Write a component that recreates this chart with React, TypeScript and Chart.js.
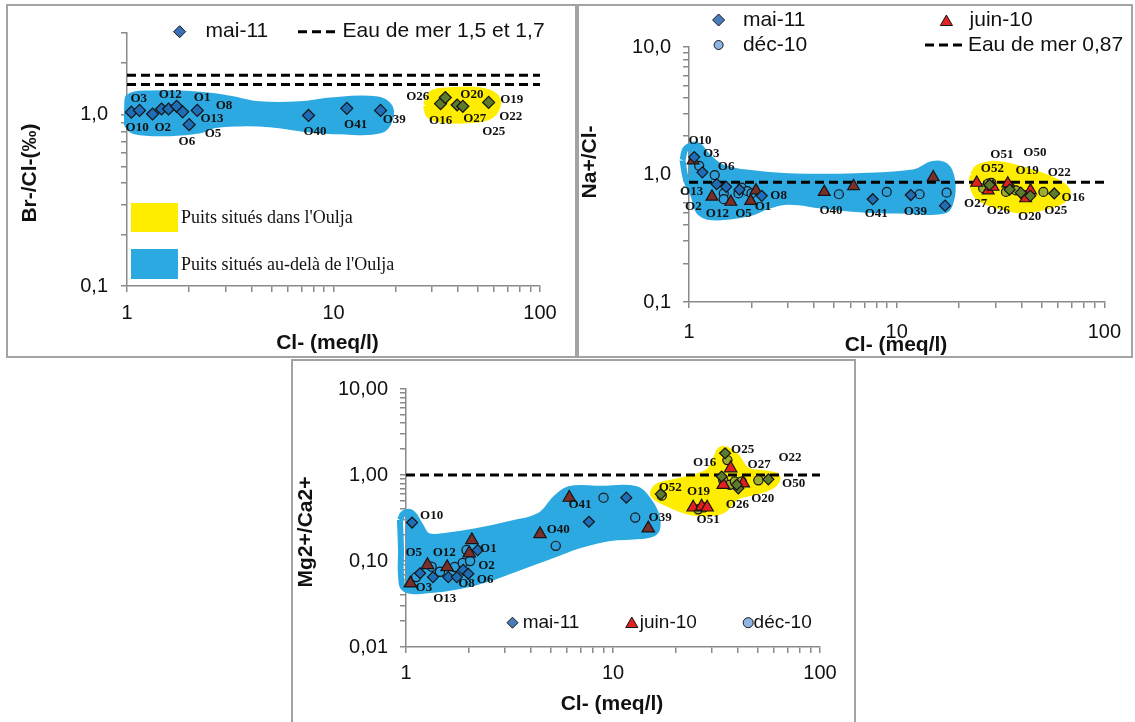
import React, { useEffect, useRef } from 'react';
import { Chart, registerables } from 'chart.js';

Chart.register(...registerables);

const SANS = '"Liberation Sans", Arial, sans-serif';
const SERIF = '"Liberation Serif", "Times New Roman", serif';

// ---------------- axes ----------------
const CL_TICKS = [1, 2, 3, 4, 5, 6, 7, 8, 9, 10, 20, 30, 40, 50, 60, 70, 80, 90, 100];
const CL_TEXT: Record<string, string> = { '1': '1', '10': '10', '100': '100' };
const BR_TICKS = [0.1, 0.2, 0.3, 0.4, 0.5, 0.6, 0.7, 0.8, 0.9, 1, 2, 3];
const BR_TEXT: Record<string, string> = { '0.1': '0,1', '1': '1,0' };
const NA_TICKS = [0.1, 0.2, 0.3, 0.4, 0.5, 0.6, 0.7, 0.8, 0.9, 1, 2, 3, 4, 5, 6, 7, 8, 9, 10];
const NA_TEXT: Record<string, string> = { '0.1': '0,1', '1': '1,0', '10': '10,0' };
const MG_TICKS = [0.01, 0.02, 0.03, 0.04, 0.05, 0.06, 0.07, 0.08, 0.09, 0.1, 0.2, 0.3, 0.4, 0.5, 0.6, 0.7, 0.8, 0.9, 1, 2, 3, 4, 5, 6, 7, 8, 9, 10];
const MG_TEXT: Record<string, string> = { '0.01': '0,01', '0.1': '0,10', '1': '1,00', '10': '10,00' };

// ---------------- panel 1 : Br-/Cl- ----------------
const BR_MAI_X = [1.05, 1.15, 1.33, 1.47, 1.59, 1.74, 1.86, 2.0, 2.19, 7.57, 11.6, 16.9, 33.0, 34.8, 39.7, 42.3, 56.4];
const BR_MAI_Y = [1.035, 1.06, 1.01, 1.08, 1.08, 1.12, 1.04, 0.875, 1.06, 0.99, 1.09, 1.06, 1.16, 1.26, 1.14, 1.12, 1.18];
const BR_SEA = [1.5, 1.7];
const BR_LABELS: [string, number, number][] = [
  ['O3', 1.14, 1.24], ['O12', 1.62, 1.31], ['O1', 2.31, 1.25], ['O8', 2.95, 1.13],
  ['O10', 1.12, 0.84], ['O2', 1.49, 0.84], ['O13', 2.58, 0.95], ['O5', 2.61, 0.78],
  ['O6', 1.95, 0.70], ['O40', 8.13, 0.80], ['O41', 12.8, 0.88], ['O39', 19.7, 0.93],
  ['O26', 25.6, 1.27], ['O20', 46.8, 1.31], ['O19', 73.0, 1.23], ['O16', 33.0, 0.92],
  ['O27', 48.3, 0.95], ['O22', 72.2, 0.97], ['O25', 59.7, 0.80],
];
const BR_BLUE_X = [1.0, 1.01, 1.29, 2.26, 3.15, 4.4, 6.88, 9.6, 15.0, 18.3, 18.8, 16.8, 10.7, 7.69, 4.92, 3.52, 2.67, 2.26, 1.62, 1.09, 1.0];
const BR_BLUE_Y = [1.03, 1.26, 1.33, 1.31, 1.24, 1.15, 1.15, 1.21, 1.24, 1.15, 0.95, 0.81, 0.8, 0.82, 0.88, 0.89, 0.87, 0.81, 0.78, 0.8, 0.88];
const BR_YEL_X = [28, 29.9, 36.6, 51, 60.4, 62.5, 57.1, 45.8, 34.6, 29.3];
const BR_YEL_Y = [1.13, 1.33, 1.39, 1.39, 1.29, 1.13, 0.98, 0.93, 0.93, 0.98];

// ---------------- panel 2 : Na+/Cl- ----------------
const NA_MAI_X = [1.06, 1.16, 1.36, 1.51, 1.75, 2.24, 7.67, 11.7, 17.1, 28, 35, 39.6, 44, 57.4];
const NA_MAI_Y = [1.37, 1.04, 0.84, 0.8, 0.76, 0.68, 0.64, 0.69, 0.57, 0.83, 0.76, 0.72, 0.68, 0.71];
const NA_JUIN_X = [1.045, 1.29, 1.59, 1.98, 2.1, 4.48, 6.2, 15.0, 24.3, 27.6, 29.1, 34.3, 41.8, 44.1];
const NA_JUIN_Y = [1.29, 0.67, 0.61, 0.62, 0.75, 0.73, 0.81, 0.95, 0.86, 0.75, 0.8, 0.85, 0.65, 0.75];
const NA_DEC_X = [1.12, 1.33, 1.47, 1.47, 1.73, 1.79, 1.91, 2.0, 5.27, 8.96, 12.9, 17.4, 26.1, 27.6, 28.6, 33.6, 35.5, 37.5, 41, 50.9];
const NA_DEC_Y = [1.17, 0.99, 0.71, 0.64, 0.71, 0.79, 0.74, 0.71, 0.7, 0.73, 0.7, 0.72, 0.78, 0.85, 0.86, 0.73, 0.78, 0.75, 0.69, 0.73];
const NA_SEA = [0.87];
const NA_LABELS: [string, number, number][] = [
  ['O10', 1.13, 1.83], ['O3', 1.28, 1.46], ['O6', 1.51, 1.15], ['O13', 1.03, 0.73],
  ['O2', 1.05, 0.56], ['O12', 1.37, 0.49], ['O5', 1.83, 0.49], ['O1', 2.27, 0.56],
  ['O8', 2.7, 0.68], ['O40', 4.83, 0.52], ['O41', 7.98, 0.49], ['O39', 12.3, 0.51],
  ['O51', 32.1, 1.44], ['O50', 46.3, 1.48], ['O52', 28.9, 1.11], ['O19', 42.5, 1.07],
  ['O22', 60.7, 1.03], ['O27', 24.0, 0.59], ['O26', 30.9, 0.52], ['O20', 43.7, 0.47],
  ['O25', 58.4, 0.52], ['O16', 70.8, 0.66],
];
const NA_BLUE_X = [0.93, 0.97, 1.095, 1.23, 1.44, 1.84, 3.0, 6.4, 12.2, 14.9, 17.3, 18.5, 18.3, 16.9, 11.6, 7.12, 4.38, 3.0, 2.36, 1.99, 1.37, 1.13, 1.05, 0.97];
const NA_BLUE_Y = [1.3, 1.61, 1.7, 1.39, 1.14, 1.04, 0.97, 0.97, 1.04, 1.21, 1.16, 0.9, 0.63, 0.52, 0.52, 0.53, 0.57, 0.61, 0.56, 0.5, 0.46, 0.5, 0.69, 0.9];
const NA_YEL_X = [23.2, 24.8, 30.7, 44.9, 56.9, 66.3, 63.5, 50, 40.3, 30.7, 24.8, 23.2];
const NA_YEL_Y = [0.99, 1.14, 1.21, 1.04, 0.9, 0.75, 0.63, 0.55, 0.52, 0.57, 0.66, 0.82];

// ---------------- panel 3 : Mg2+/Ca2+ ----------------
const MG_MAI_X = [1.07, 1.17, 1.35, 1.6, 1.76, 1.89, 2.0, 2.22, 7.65, 11.6, 17.0, 34.8, 33.5, 40.3, 39.6, 56.3];
const MG_MAI_Y = [0.28, 0.072, 0.065, 0.065, 0.065, 0.079, 0.071, 0.134, 0.286, 0.545, 0.6, 1.79, 0.96, 0.7, 0.77, 0.89];
const MG_JUIN_X = [1.05, 1.27, 1.58, 2.02, 2.08, 4.44, 6.15, 14.8, 24.4, 26.8, 28.5, 37, 34.1, 42.6];
const MG_JUIN_Y = [0.055, 0.09, 0.085, 0.123, 0.175, 0.206, 0.545, 0.24, 0.42, 0.43, 0.42, 1.2, 0.77, 0.8];
const MG_DEC_X = [1.12, 1.33, 1.46, 1.72, 1.88, 1.96, 2.04, 5.29, 9.0, 12.8, 17.2, 25.8, 27.5, 35.7, 34.1, 36.7, 38.8, 41.9, 50.4];
const MG_DEC_Y = [0.065, 0.086, 0.075, 0.085, 0.095, 0.134, 0.1, 0.15, 0.545, 0.32, 0.575, 0.4, 0.42, 1.49, 0.87, 0.77, 0.84, 0.84, 0.87];
const MG_SEA = [1.0];
const MG_LABELS: [string, number, number][] = [
  ['O10', 1.33, 0.334], ['O5', 1.09, 0.125], ['O12', 1.53, 0.125], ['O1', 2.5, 0.14],
  ['O2', 2.45, 0.0875], ['O6', 2.41, 0.0613], ['O8', 1.96, 0.055], ['O3', 1.22, 0.0494],
  ['O13', 1.54, 0.0368], ['O40', 5.44, 0.234], ['O41', 6.93, 0.448], ['O39', 16.9, 0.322],
  ['O52', 18.9, 0.712], ['O19', 25.9, 0.64], ['O51', 28.8, 0.3], ['O16', 27.7, 1.405],
  ['O25', 42.3, 1.95], ['O27', 50.8, 1.33], ['O22', 71.6, 1.59], ['O50', 74.6, 0.8],
  ['O20', 52.9, 0.536], ['O26', 39.9, 0.456],
];
const MG_BLUE_X = [0.935, 0.978, 1.07, 1.17, 1.28, 1.63, 2.15, 3.18, 4.44, 5.3, 6.2, 8.65, 12.8, 14.8, 16.3, 16.0, 13.5, 9.67, 6.93, 4.96, 3.55, 2.55, 1.82, 1.31, 0.99, 0.946, 0.946];
const MG_BLUE_Y = [0.3, 0.36, 0.36, 0.26, 0.195, 0.2, 0.22, 0.27, 0.34, 0.54, 0.69, 0.69, 0.69, 0.51, 0.32, 0.217, 0.195, 0.185, 0.153, 0.114, 0.085, 0.063, 0.051, 0.046, 0.047, 0.069, 0.134];
const MG_YEL_X = [34.8, 39.6, 44.2, 53.2, 62, 59.5, 49.5, 39.6, 34.1, 29.4, 23.6, 18.2, 15.7, 16.3, 20.3, 25.4, 29.4, 31.7, 32.9];
const MG_YEL_Y = [2.04, 1.63, 1.14, 1.05, 0.96, 0.77, 0.64, 0.56, 0.39, 0.36, 0.37, 0.47, 0.585, 0.73, 0.84, 0.96, 1.14, 1.63, 1.95];

// ---------------- styles ----------------
const C = {
  blueZone: '#2CA9E1', yellowZone: '#FFED00',
  maiBlue: '#1F6DB6', maiYellow: '#5E7A2B',
  juinBlue: '#7B2F2A', juinYellow: '#E3201F',
  decBlue: '#2E9FD9', decYellow: '#9FAE2F',
  maiLegend: '#4A7EBB', juinLegend: '#E02424', decLegend: '#8FB6E3',
  edge: '#151515', axis: '#8a8a8a', text: '#111',
};

type Box = { x: number; y: number; w: number; h: number };
type Area = { l: number; r: number; t: number; b: number };

const zip = (xs: number[], ys: number[]) => xs.map((x, i) => ({ x, y: ys[i] }));

function points(label: string, xs: number[], ys: number[], style: string, r: number, blue: string, yellow: string, split: number) {
  return {
    type: 'scatter', label, data: zip(xs, ys),
    pointStyle: style, pointRadius: r, pointHoverRadius: r,
    pointBackgroundColor: (c: any) => (c.raw && c.raw.x > split ? yellow : blue),
    pointBorderColor: C.edge, pointBorderWidth: 1.2, order: 0, clip: false,
  };
}

function blob(xs: number[], ys: number[], color: string) {
  const d = zip(xs, ys);
  d.push(d[0]);
  return {
    type: 'line', data: d, fill: 'shape', backgroundColor: color, borderColor: color,
    borderWidth: 6, borderJoinStyle: 'round', pointRadius: 0, tension: 0.4, clip: false, order: 2,
  };
}

function seaLine(v: number) {
  return {
    type: 'line', data: [{ x: 1, y: v }, { x: 100, y: v }], borderColor: '#000', borderWidth: 3,
    borderDash: [9, 5], pointRadius: 0, fill: false, tension: 0, order: 1,
  };
}

function setTicks(list: number[]) {
  return (s: any) => { s.ticks = list.map((v) => ({ value: v })); };
}

function scales(box: Box, area: Area, yMin: number, yMax: number, yTicks: number[], yText: Record<string, string>, xPad: number, yPad: number) {
  const grid = { display: true, drawOnChartArea: false, drawTicks: true, tickLength: 6, color: C.axis, lineWidth: 1.5 };
  const border = { display: true, color: C.axis, width: 1.5 };
  return {
    x: {
      type: 'logarithmic', position: 'bottom', min: 1, max: 100,
      afterFit: (s: any) => { s.height = box.h - area.b; },
      afterBuildTicks: setTicks(CL_TICKS),
      ticks: { autoSkip: false, maxRotation: 0, padding: xPad, color: C.text, font: { size: 20, family: SANS }, callback: (v: any) => CL_TEXT[String(v)] ?? '' },
      grid, border,
    },
    y: {
      type: 'logarithmic', position: 'left', min: yMin, max: yMax,
      afterFit: (s: any) => { s.width = area.l; },
      afterBuildTicks: setTicks(yTicks),
      ticks: { autoSkip: false, padding: yPad, color: C.text, font: { size: 20, family: SANS }, callback: (v: any) => yText[String(v)] ?? '' },
      grid, border,
    },
  };
}

function marker(ctx: CanvasRenderingContext2D, style: string, x: number, y: number, r: number, fill: string) {
  ctx.beginPath();
  if (style === 'rectRot') {
    ctx.moveTo(x, y - r); ctx.lineTo(x + r, y); ctx.lineTo(x, y + r); ctx.lineTo(x - r, y); ctx.closePath();
  } else if (style === 'triangle') {
    ctx.moveTo(x, y - r); ctx.lineTo(x + r * 0.866, y + r * 0.5); ctx.lineTo(x - r * 0.866, y + r * 0.5); ctx.closePath();
  } else {
    ctx.arc(x, y, r, 0, Math.PI * 2);
  }
  ctx.fillStyle = fill; ctx.fill();
  ctx.strokeStyle = C.edge; ctx.lineWidth = 1; ctx.stroke();
}

function text(ctx: CanvasRenderingContext2D, s: string, x: number, y: number, font: string, align: CanvasTextAlign = 'left') {
  ctx.font = font; ctx.fillStyle = C.text; ctx.textAlign = align; ctx.textBaseline = 'middle';
  ctx.fillText(s, x, y);
}

function dash(ctx: CanvasRenderingContext2D, x1: number, x2: number, y: number) {
  ctx.save(); ctx.beginPath(); ctx.setLineDash([9, 5]); ctx.strokeStyle = '#000'; ctx.lineWidth = 3;
  ctx.moveTo(x1, y); ctx.lineTo(x2, y); ctx.stroke(); ctx.restore();
}

function vtitle(ctx: CanvasRenderingContext2D, s: string, x: number, y: number) {
  ctx.save(); ctx.translate(x, y); ctx.rotate(-Math.PI / 2);
  text(ctx, s, 0, 0, `bold 21px ${SANS}`, 'center'); ctx.restore();
}

function overlay(labels: [string, number, number][], draw: (ctx: CanvasRenderingContext2D) => void) {
  return {
    id: 'overlay',
    afterDatasetsDraw(chart: any) {
      const ctx = chart.ctx; const xs = chart.scales.x; const ys = chart.scales.y;
      ctx.save();
      for (const [t, x, y] of labels) text(ctx, t, xs.getPixelForValue(x), ys.getPixelForValue(y), `bold 13px ${SERIF}`, 'center');
      ctx.restore();
    },
    afterDraw(chart: any) { const ctx = chart.ctx; ctx.save(); draw(ctx); ctx.restore(); },
  };
}

function config(box: Box, area: Area, datasets: any[], sc: any, plugin: any) {
  return {
    type: 'scatter',
    data: { datasets },
    options: {
      animation: false, responsive: false, devicePixelRatio: 1, events: [],
      layout: { padding: { left: 0, top: area.t, right: box.w - area.r, bottom: 0 } },
      plugins: { legend: { display: false }, tooltip: { enabled: false }, title: { display: false } },
      scales: sc,
    },
    plugins: [plugin],
  };
}

// ---------------- panels ----------------
const P1_BOX: Box = { x: 6, y: 4, w: 571, h: 354 };
const P1_AREA: Area = { l: 121, r: 534, t: 29, b: 282 };
const P2_BOX: Box = { x: 577, y: 4, w: 556, h: 354 };
const P2_AREA: Area = { l: 112, r: 537, t: 43, b: 298 };
const P3_BOX: Box = { x: 291, y: 359, w: 565, h: 365 };
const P3_AREA: Area = { l: 115, r: 529, t: 30, b: 288 };

function buildP1() {
  const ds = [
    points('mai-11', BR_MAI_X, BR_MAI_Y, 'rectRot', 6, C.maiBlue, C.maiYellow, 20),
    ...BR_SEA.map(seaLine),
    blob(BR_BLUE_X, BR_BLUE_Y, C.blueZone),
    blob(BR_YEL_X, BR_YEL_Y, C.yellowZone),
  ];
  const pl = overlay(BR_LABELS, (ctx) => {
    marker(ctx, 'rectRot', 173.6, 27.7, 6, '#3B6FB6');
    text(ctx, 'mai-11', 199.6, 27.7, `21px ${SANS}`);
    dash(ctx, 292, 329, 27.7);
    text(ctx, 'Eau de mer 1,5 et 1,7', 336.6, 27.7, `21px ${SANS}`);
    ctx.fillStyle = C.yellowZone; ctx.fillRect(125, 199, 47, 29);
    ctx.fillStyle = C.blueZone; ctx.fillRect(125, 245, 47, 30);
    text(ctx, "Puits situés dans l'Oulja", 175, 214, `18px ${SERIF}`);
    text(ctx, "Puits situés au-delà de l'Oulja", 175, 261, `18px ${SERIF}`);
    vtitle(ctx, 'Br-/Cl-(‰)', 24, 169);
    text(ctx, 'Cl- (meq/l)', 321.5, 339, `bold 21px ${SANS}`, 'center');
  });
  return config(P1_BOX, P1_AREA, ds, scales(P1_BOX, P1_AREA, 0.1, 3, BR_TICKS, BR_TEXT, 9, 13), pl);
}

function buildP2() {
  const ds = [
    points('mai-11', NA_MAI_X, NA_MAI_Y, 'rectRot', 5.5, C.maiBlue, C.maiYellow, 20),
    points('juin-10', NA_JUIN_X, NA_JUIN_Y, 'triangle', 6.8, C.juinBlue, C.juinYellow, 20),
    points('déc-10', NA_DEC_X, NA_DEC_Y, 'circle', 4.5, C.decBlue, C.decYellow, 20),
    ...NA_SEA.map(seaLine),
    blob(NA_BLUE_X, NA_BLUE_Y, C.blueZone),
    blob(NA_YEL_X, NA_YEL_Y, C.yellowZone),
  ];
  const pl = overlay(NA_LABELS, (ctx) => {
    marker(ctx, 'rectRot', 141.6, 16, 6, C.maiLegend);
    text(ctx, 'mai-11', 165.9, 16, `21px ${SANS}`);
    marker(ctx, 'triangle', 369.4, 18, 7, C.juinLegend);
    text(ctx, 'juin-10', 392.6, 16, `21px ${SANS}`);
    marker(ctx, 'circle', 141.6, 41, 4.5, C.decLegend);
    text(ctx, 'déc-10', 165.9, 41, `21px ${SANS}`);
    dash(ctx, 348, 385.5, 41);
    text(ctx, 'Eau de mer 0,87', 390.9, 41, `21px ${SANS}`);
    vtitle(ctx, 'Na+/Cl-', 13, 158);
    text(ctx, 'Cl- (meq/l)', 319, 341, `bold 21px ${SANS}`, 'center');
  });
  return config(P2_BOX, P2_AREA, ds, scales(P2_BOX, P2_AREA, 0.1, 10, NA_TICKS, NA_TEXT, 12, 12), pl);
}

function buildP3() {
  const ds = [
    points('mai-11', MG_MAI_X, MG_MAI_Y, 'rectRot', 5.5, C.maiBlue, C.maiYellow, 16.5),
    points('juin-10', MG_JUIN_X, MG_JUIN_Y, 'triangle', 7.2, C.juinBlue, C.juinYellow, 16.5),
    points('déc-10', MG_DEC_X, MG_DEC_Y, 'circle', 4.6, C.decBlue, C.decYellow, 16.5),
    ...MG_SEA.map(seaLine),
    blob(MG_BLUE_X, MG_BLUE_Y, C.blueZone),
    blob(MG_YEL_X, MG_YEL_Y, C.yellowZone),
  ];
  const pl = overlay(MG_LABELS, (ctx) => {
    marker(ctx, 'rectRot', 221.5, 263.7, 5.5, C.maiLegend);
    text(ctx, 'mai-11', 231.7, 263.7, `19px ${SANS}`);
    marker(ctx, 'triangle', 340.8, 265, 7, C.juinLegend);
    text(ctx, 'juin-10', 348.8, 263.7, `19px ${SANS}`);
    marker(ctx, 'circle', 457.2, 263.7, 5, C.decLegend);
    text(ctx, 'déc-10', 462.6, 263.7, `19px ${SANS}`);
    vtitle(ctx, 'Mg2+/Ca2+', 15, 173);
    text(ctx, 'Cl- (meq/l)', 321, 345, `bold 21px ${SANS}`, 'center');
  });
  return config(P3_BOX, P3_AREA, ds, scales(P3_BOX, P3_AREA, 0.01, 10, MG_TICKS, MG_TEXT, 8, 12), pl);
}

function Panel({ box, build }: { box: Box; build: () => any }) {
  const ref = useRef<HTMLCanvasElement>(null);
  useEffect(() => {
    const chart = new Chart(ref.current as HTMLCanvasElement, build());
    return () => chart.destroy();
  }, []);
  return (
    <>
      <canvas ref={ref} width={box.w} height={box.h}
        style={{ position: 'absolute', left: box.x, top: box.y, width: box.w, height: box.h }} />
      <div style={{ position: 'absolute', left: box.x, top: box.y, width: box.w, height: box.h, boxSizing: 'border-box', border: '2px solid #a3a3a3', pointerEvents: 'none' }} />
    </>
  );
}

export default function App() {
  return (
    <div style={{ position: 'absolute', left: 0, top: 0, width: 1135, height: 722, background: '#fff', overflow: 'hidden' }}>
      <Panel box={P1_BOX} build={buildP1} />
      <Panel box={P2_BOX} build={buildP2} />
      <Panel box={P3_BOX} build={buildP3} />
    </div>
  );
}
